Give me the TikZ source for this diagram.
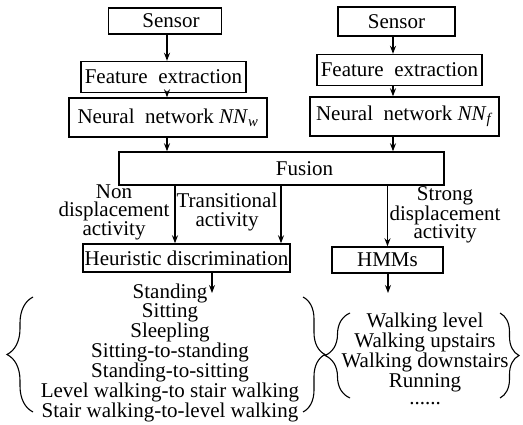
\documentclass[tikz,border=0pt]{standalone}
\usepackage{fontspec}
\setmainfont{Liberation Serif}
\usetikzlibrary{arrows.meta,decorations.pathreplacing}

\begin{document}
\begin{tikzpicture}[x=1pt, y=-1pt, >={Stealth[length=8pt,width=6pt]},
    font=\fontsize{21}{18}\selectfont,
    box/.style={draw, line width=1.4pt, inner sep=0pt, align=center},
    flow/.style={->, line width=1.2pt},
    lbl/.style={align=center, inner sep=0pt, font=\fontsize{21}{18.5}\selectfont},
    lst/.style={align=center, inner sep=0pt, font=\fontsize{21}{17.5}\selectfont},
    brc/.style={decorate, line width=1.1pt, decoration={brace, amplitude=#1}},
    brc/.default=20]
  \useasboundingbox (0,0) rectangle (523,425);

  % --- left branch: Sensor -> Feature extraction -> NN_w ---
  \coordinate (colL) at (167,0);
  \node[box, minimum width=113pt, minimum height=26pt] (sensL) at (165,21) {\hspace*{12pt}Sensor};
  \node[box, minimum width=165pt, minimum height=31pt] (featL) at (163.5,77) {Feature\enspace extraction};
  \node[box, minimum width=198pt, minimum height=39pt] (nnL) at (168,117.5) {Neural\enspace network \textit{NN}\textsubscript{\textit{w}}};

  % --- right branch: Sensor -> Feature extraction -> NN_f ---
  \coordinate (colR) at (393,0);
  \node[box, minimum width=117pt, minimum height=29pt] (sensR) at (396.5,21.5) {Sensor};
  \node[box, minimum width=165pt, minimum height=31pt] (featR) at (399.5,70) {Feature\enspace extraction};
  \node[box, minimum width=189pt, minimum height=39pt] (nnR) at (404.5,116.5) {Neural\enspace network \textit{NN}\textsubscript{\textit{f}}};

  % --- fusion and classifiers ---
  \node[box, minimum width=325pt, minimum height=33pt] (fusion) at (281.5,168.5) {\hspace*{46pt}Fusion};
  \node[box, minimum width=207pt, minimum height=28pt] (heur) at (186.5,258) {Heuristic discrimination};
  \node[box, minimum width=111pt, minimum height=26pt] (hmm) at (387.5,260) {HMMs};

  \draw[flow] (sensL.south -| colL) -- (featL.north -| colL);
  \draw[flow] (featL.south -| colL) -- (nnL.north -| colL);
  \draw[flow] (nnL.south -| colL) -- (fusion.north -| colL);
  \draw[flow] (sensR.south -| colR) -- (featR.north -| colR);
  \draw[flow] (featR.south -| colR) -- (nnR.north -| colR);
  \draw[flow] (nnR.south -| colR) -- (fusion.north -| colR);

  \coordinate (nonIn) at ([xshift=-11.5pt]heur.north);
  \coordinate (trnIn) at ([xshift=94.5pt]heur.north);
  \draw[flow] (fusion.south -| nonIn) -- (nonIn);
  \draw[flow] (fusion.south -| trnIn) -- (trnIn);
  \draw[flow] (fusion.south -| hmm.north) -- (hmm.north);

  \node[lbl] (nonDisp) at (114,212) {Non\\displacement\\activity};
  \node[lbl] (trans) at (227,212) {Transitional\\activity};
  \node[lbl] (strong) at (445,215) {Strong\\displacement\\activity};

  % --- recognised activities ---
  \node[lst] (actL) at (170,353) {Standing\\Sitting\\Sleepling\\Sitting-to-standing\\Standing-to-sitting\\Level walking-to stair walking\\Stair walking-to-level walking};
  \node[lst] (actR) at (425,359) {Walking level\\Walking upstairs\\Walking downstairs\\Running\\......};

  \coordinate (outL) at (212,293);
  \coordinate (outR) at (388,293);
  \draw[flow] (heur.south -| outL) -- (outL);
  \draw[flow] (hmm.south -| outR) -- (outR);

  \draw[brc=26] (33,412) -- (33,297);
  \draw[brc=22] (303,297) -- (303,412);
  \draw[brc=25] (350,398) -- (350,313);
  \draw[brc=19] (500,313) -- (500,398);
\end{tikzpicture}
\end{document}
